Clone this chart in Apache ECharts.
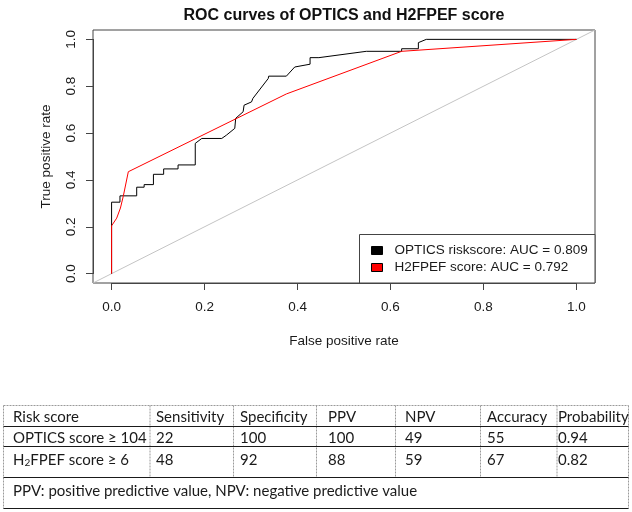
<!DOCTYPE html>
<html>
<head>
<meta charset="utf-8">
<script src="https://cdn.jsdelivr.net/npm/echarts@6/dist/echarts.min.js"></script>
<style>html,body{margin:0;padding:0;background:#fff}#c{width:632px;height:512px}</style>
</head>
<body>
<div id="c"></div>
<script>
// ---- Data ----
const opticsFpr = [0,0,0.018,0.018,0.054,0.054,0.07,0.07,0.09,0.09,0.112,0.112,0.143,0.143,0.18,0.18,0.194,0.237,0.247,0.265,0.267,0.283,0.285,0.301,0.304,0.337,0.338,0.376,0.394,0.427,0.427,0.446,0.548,0.624,0.624,0.66,0.66,0.677,1];
const opticsTpr = [0,0.305,0.305,0.332,0.332,0.369,0.369,0.38,0.38,0.424,0.424,0.447,0.447,0.464,0.464,0.556,0.577,0.577,0.591,0.62,0.663,0.691,0.719,0.733,0.748,0.833,0.843,0.843,0.882,0.894,0.922,0.922,0.949,0.949,0.96,0.96,0.986,1,1];
const h2Fpr = [0,0,0.011,0.019,0.025,0.036,0.376,0.624,1];
const h2Tpr = [0,0.204,0.237,0.28,0.329,0.435,0.767,0.949,1];
const refX = [-0.04, 1.04];
const refY = [-0.04, 1.04];
const seriesNames = ['OPTICS riskscore: AUC = 0.809', 'H2FPEF score: AUC = 0.792'];
const tickValues = [0, 0.2, 0.4, 0.6, 0.8, 1.0];
const tickLabels = ['0.0', '0.2', '0.4', '0.6', '0.8', '1.0'];
const tableHeader = ['Risk score', 'Sensitivity', 'Specificity', 'PPV', 'NPV', 'Accuracy', 'Probability'];
const tableRow1 = ['OPTICS score \u2265 104', '22', '100', '100', '49', '55', '0.94'];
const tableRow2 = ['H{sub|2}FPEF score \u2265 6', '48', '92', '88', '59', '67', '0.82'];
const footnote = 'PPV: positive predictive value, NPV: negative predictive value';

// ---- Layout ----
const FONT = '"Liberation Sans", Arial, sans-serif';
const TFONT = 'Lato, "Open Sans", sans-serif';
const colX = [13, 156, 240, 328, 405, 487, 558];
const divX = [150, 233.5, 316.5, 395.5, 480.5, 557];
const rowY = [417.5, 438.5, 460, 491.5];
const lineY = [426.5, 446.5, 477.5, 508.5];

function pairs(xs, ys) { return xs.map((x, i) => [x, ys[i]]); }
function tickLabel(v) {
  let best = 0;
  tickValues.forEach((t, i) => { if (Math.abs(t - v) < Math.abs(tickValues[best] - v)) best = i; });
  return tickLabels[best];
}

const graphics = [];
// legend box
graphics.push({type:'rect', z:5, shape:{x:359.5, y:234.5, width:235.5, height:48.5}, style:{fill:'#fff', stroke:'#444', lineWidth:1}});
// table lines
const dash = {stroke:'#9a9a9a', lineWidth:1, lineDash:[2,1]};
graphics.push({type:'line', shape:{x1:3.5, y1:405.5, x2:628.5, y2:405.5}, style:dash});
graphics.push({type:'line', shape:{x1:3.5, y1:405.5, x2:3.5, y2:508.5}, style:dash});
graphics.push({type:'line', shape:{x1:628.5, y1:405.5, x2:628.5, y2:508.5}, style:dash});
divX.forEach(x => graphics.push({type:'line', shape:{x1:x, y1:405.5, x2:x, y2:477.5}, style:dash}));
lineY.forEach(y => graphics.push({type:'line', shape:{x1:3.5, y1:y, x2:628.5, y2:y}, style:{stroke:'#1a1a1a', lineWidth:1}}));
// table text
function cellText(txt, x, y) {
  return {type:'text', style:{text:txt, x:x, y:y, fill:'#1a1a1a', fontFamily:TFONT, fontSize:15, verticalAlign:'middle', align:'left',
    rich:{sub:{fontSize:10, fontFamily:TFONT, fill:'#1a1a1a', verticalAlign:'bottom', padding:[6,0,0,0]}}}};
}
[tableHeader, tableRow1, tableRow2].forEach((row, r) => {
  row.forEach((t, c) => graphics.push(cellText(t, colX[c], rowY[r])));
});
graphics.push(cellText(footnote, colX[0], rowY[3]));

const chart = echarts.init(document.getElementById('c'), null, {renderer:'canvas'});
chart.setOption({
  animation: false,
  backgroundColor: '#fff',
  title: {
    text: 'ROC curves of OPTICS and H2FPEF score',
    left: 344, top: 8, textAlign: 'center', padding: 0,
    textStyle: {fontFamily: FONT, fontSize: 16, fontWeight: 'bold', color: '#111'}
  },
  legend: {
    data: seriesNames,
    orient: 'vertical', left: 371, top: 242, padding: 0, itemGap: 0,
    icon: 'rect', itemWidth: 11, itemHeight: 8,
    itemStyle: {borderColor: '#000', borderWidth: 1},
    textStyle: {fontFamily: FONT, fontSize: 13.5, color: '#1a1a1a', lineHeight: 17, padding: [0,0,0,7]},
    z: 10, selectedMode: false
  },
  grid: [
    {left: 93, right: 37, top: 30, bottom: 229, show: true, borderColor: '#444', borderWidth: 1, backgroundColor: 'transparent'},
    {left: 111.6, right: 55.6, top: 39.4, bottom: 238.4, show: false}
  ],
  xAxis: [
    {gridIndex: 0, type: 'value', min: -0.04, max: 1.04, show: false},
    {gridIndex: 1, type: 'value', min: 0, max: 1, offset: 9.4, position: 'bottom',
     axisLine: {show: true, onZero: false, lineStyle: {color: '#444', width: 1}},
     axisTick: {show: true, length: 7, customValues: tickValues, lineStyle: {color: '#444'}},
     axisLabel: {customValues: tickValues, formatter: tickLabel, margin: 17, fontFamily: FONT, fontSize: 13.5, color: '#1a1a1a'},
     splitLine: {show: false},
     name: 'False positive rate', nameLocation: 'middle', nameGap: 51,
     nameTextStyle: {fontFamily: FONT, fontSize: 13.5, color: '#1a1a1a'}}
  ],
  yAxis: [
    {gridIndex: 0, type: 'value', min: -0.04, max: 1.04, show: false},
    {gridIndex: 1, type: 'value', min: 0, max: 1, offset: 18.6, position: 'left',
     axisLine: {show: true, onZero: false, lineStyle: {color: '#444', width: 1}},
     axisTick: {show: true, length: 7, customValues: tickValues, lineStyle: {color: '#444'}},
     axisLabel: {customValues: tickValues, formatter: tickLabel, rotate: 90, margin: 15, fontFamily: FONT, fontSize: 13.5, color: '#1a1a1a'},
     splitLine: {show: false},
     name: 'True positive rate', nameLocation: 'middle', nameGap: 40,
     nameTextStyle: {fontFamily: FONT, fontSize: 13.5, color: '#1a1a1a'}}
  ],
  series: [
    {name: 'reference', type: 'line', xAxisIndex: 0, yAxisIndex: 0, data: pairs(refX, refY), showSymbol: false, silent: true,
     lineStyle: {color: '#c4c4c4', width: 1}, itemStyle: {color: '#c4c4c4'}, z: 1},
    {name: seriesNames[0], type: 'line', xAxisIndex: 0, yAxisIndex: 0, data: pairs(opticsFpr, opticsTpr), showSymbol: false,
     lineStyle: {color: '#000', width: 1}, itemStyle: {color: '#000'}, z: 3},
    {name: seriesNames[1], type: 'line', xAxisIndex: 0, yAxisIndex: 0, data: pairs(h2Fpr, h2Tpr), showSymbol: false,
     lineStyle: {color: '#ff0000', width: 1}, itemStyle: {color: '#ff0000'}, z: 4}
  ],
  graphic: graphics
});
</script>
</body>
</html>
